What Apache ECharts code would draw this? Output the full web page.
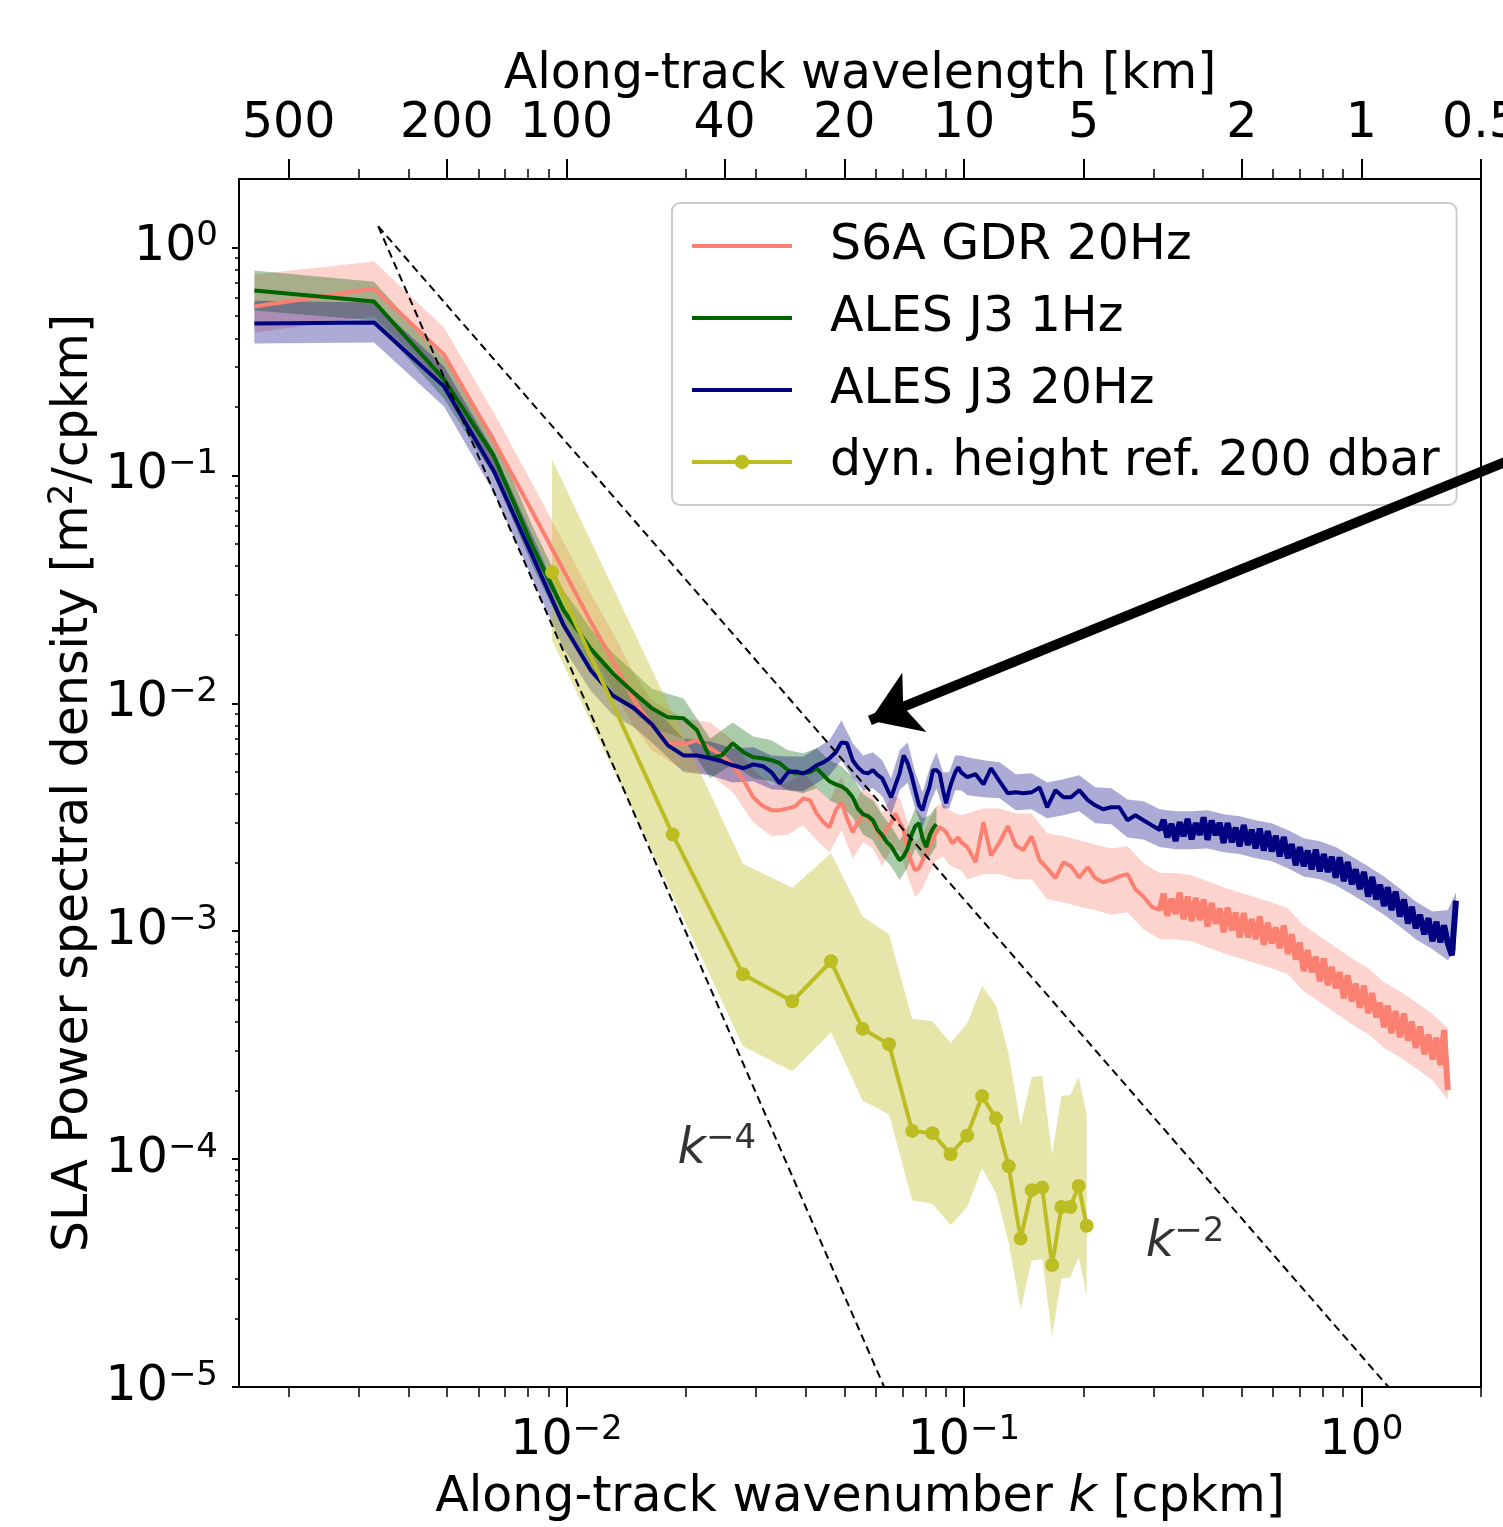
<!DOCTYPE html>
<html>
<head>
<meta charset="utf-8">
<title>SLA wavenumber spectra</title>
<script src="https://cdn.jsdelivr.net/npm/echarts@6/dist/echarts.min.js"></script>
<style>
  html, body { margin: 0; padding: 0; background: #fff; overflow: hidden; }
  #main { width: 1503px; height: 1527px; }
</style>
</head>
<body>
<div id="main"></div>
<script>
// wavenumber grid of the 20Hz / 1Hz spectra [cpkm]
var waveK = [
  0.00164, 0.00328, 0.00492, 0.00656, 0.0082, 0.00984, 0.0115, 0.0131, 0.0148, 0.0164,
  0.018, 0.0197, 0.0213, 0.023, 0.0246, 0.0262, 0.0279, 0.0295, 0.0312, 0.0328,
  0.0344, 0.0361, 0.0377, 0.0394, 0.041, 0.0426, 0.0443, 0.0459, 0.0476, 0.0492,
  0.0508, 0.0525, 0.0541, 0.0558, 0.0574, 0.059, 0.0607, 0.0623, 0.064, 0.0656,
  0.0672, 0.0689, 0.0705, 0.0722, 0.0738, 0.0754, 0.0771, 0.0787, 0.0804, 0.082,
  0.0836, 0.0853, 0.0869, 0.0886, 0.0902, 0.0918, 0.0935, 0.0951, 0.0968, 0.0984,
  0.102, 0.107, 0.112, 0.117, 0.123, 0.129, 0.135, 0.141, 0.148, 0.155,
  0.162, 0.170, 0.178, 0.186, 0.195, 0.205, 0.214, 0.224, 0.235, 0.246,
  0.258, 0.270, 0.283, 0.297,
  0.311, 0.318, 0.325, 0.333, 0.341, 0.349, 0.357, 0.3655, 0.374, 0.383,
  0.392, 0.401, 0.410, 0.420, 0.430, 0.440, 0.450, 0.461, 0.472, 0.483,
  0.494, 0.506, 0.518, 0.530, 0.542, 0.555, 0.568, 0.5815, 0.595, 0.609,
  0.623, 0.638, 0.653, 0.668, 0.684, 0.700, 0.716, 0.733, 0.750, 0.768,
  0.786, 0.8045, 0.823, 0.8425, 0.862, 0.882, 0.903, 0.924, 0.946, 0.968,
  0.991, 1.015, 1.04, 1.065, 1.09, 1.115, 1.14, 1.165, 1.19, 1.22,
  1.25, 1.28, 1.31, 1.34, 1.37, 1.405, 1.44, 1.475, 1.51, 1.545,
  1.58, 1.615, 1.65, 1.69, 1.73
];
// index in waveK where the densely sampled, noisy part starts
var denseFrom = 84;

// S6A GDR 20Hz
var s6aPsd = [
  0.551, 0.661, 0.339, 0.142, 0.0695, 0.0383, 0.0229, 0.0153, 0.0103, 0.00801,
  0.00668, 0.00661, 0.00688, 0.00635, 0.00591, 0.00535, 0.0046, 0.00387, 0.00354, 0.0034,
  0.0034, 0.00346, 0.00354, 0.00383, 0.00376, 0.00329, 0.00301, 0.00286, 0.0034, 0.00368,
  0.00313, 0.00272, 0.00301, 0.00326, 0.00313, 0.00304, 0.00272, 0.00256, 0.00283, 0.00298,
  0.00329, 0.00301, 0.00278, 0.00227, 0.00201, 0.00185, 0.00189, 0.00205, 0.0022, 0.00238,
  0.00256, 0.00272, 0.00286, 0.0028, 0.00272, 0.00258, 0.00243, 0.00251, 0.00258, 0.00246,
  0.00234, 0.00201, 0.00301, 0.00215, 0.00246, 0.00289, 0.00238, 0.00227, 0.00261, 0.00205,
  0.00189, 0.00171, 0.00201, 0.00193, 0.00172, 0.00191, 0.00171, 0.00164, 0.00168, 0.00174,
  0.00178, 0.00153, 0.00142, 0.00128,
  0.00124, 0.00146, 0.00117, 0.00139, 0.00119, 0.00148, 0.00113, 0.00142, 0.00111, 0.0014,
  0.00112, 0.00138, 0.00105, 0.00133, 0.00108, 0.00126, 0.00099, 0.00127, 0.00101, 0.00121,
  0.00094, 0.0012, 0.000941, 0.00113, 0.000925, 0.00116, 0.000872, 0.00109, 0.000884, 0.00104,
  0.000843, 0.00106, 0.000795, 0.00097, 0.000752, 0.000891, 0.000668, 0.000826, 0.000661, 0.000772,
  0.000602, 0.000759, 0.00058, 0.000697, 0.000562, 0.000661, 0.000508, 0.000641, 0.000493, 0.000588,
  0.000462, 0.000577, 0.000437, 0.000535, 0.000418, 0.000485, 0.000379, 0.000472, 0.000357, 0.000446,
  0.000343, 0.000435, 0.000331, 0.000401, 0.000308, 0.000382, 0.000289, 0.000352, 0.000274, 0.000341,
  0.000259, 0.000368, 0.000201
];

// ALES J3 20Hz
var j3hfPsd = [
  0.464, 0.469, 0.246, 0.105, 0.0446, 0.022, 0.014, 0.0108, 0.00951, 0.00809,
  0.00654, 0.00591, 0.00591, 0.00574, 0.00557, 0.00535, 0.00519, 0.0054, 0.0053, 0.00498,
  0.00446, 0.00498, 0.00503, 0.00493, 0.00509, 0.00535, 0.00551, 0.00574, 0.0061, 0.00674,
  0.00668, 0.00563, 0.00524, 0.00498, 0.00493, 0.00509, 0.00484, 0.00469, 0.00424, 0.00387,
  0.00437, 0.00493, 0.00591, 0.00546, 0.00484, 0.00416, 0.00357, 0.0034, 0.00391, 0.00432,
  0.00509, 0.00509, 0.00493, 0.00416, 0.00364, 0.00416, 0.0046, 0.00498, 0.00524, 0.00498,
  0.00474, 0.00489, 0.00441, 0.00519, 0.00455, 0.00403, 0.00407, 0.00403, 0.00407, 0.00428,
  0.0035, 0.00416, 0.00387, 0.00387, 0.00416, 0.00376, 0.00357, 0.00343, 0.0035, 0.0035,
  0.00307, 0.00323, 0.00307, 0.00292,
  0.00278, 0.00308, 0.00258, 0.00296, 0.00249, 0.00301, 0.00261, 0.00311, 0.00253, 0.00298,
  0.00265, 0.00316, 0.00252, 0.00306, 0.00264, 0.00299, 0.00244, 0.00298, 0.00246, 0.00285,
  0.00236, 0.00292, 0.00239, 0.00279, 0.00231, 0.00282, 0.00226, 0.00275, 0.00224, 0.00262,
  0.00213, 0.00259, 0.00209, 0.00241, 0.00195, 0.00234, 0.00193, 0.00226, 0.00187, 0.00228,
  0.00183, 0.00218, 0.00182, 0.00212, 0.00172, 0.00211, 0.00166, 0.00201, 0.00161, 0.00187,
  0.00153, 0.00182, 0.00142, 0.00173, 0.00138, 0.0016, 0.00129, 0.00156, 0.00124, 0.00149,
  0.00116, 0.00138, 0.00108, 0.00128, 0.00103, 0.00118, 0.00097, 0.00114, 0.000905, 0.0011,
  0.000895, 0.00106, 0.000886, 0.000785, 0.00136
];

// ALES J3 1Hz
var j3lfPsd = [
  0.648, 0.58, 0.264, 0.122, 0.0493, 0.0256, 0.0174, 0.0135, 0.0111, 0.00951,
  0.00868, 0.0086, 0.00762, 0.00574, 0.00591, 0.00668, 0.0061, 0.0058, 0.00574, 0.00563,
  0.00546, 0.00509, 0.00493, 0.00493, 0.00498, 0.00519, 0.00484, 0.00455, 0.00441, 0.00432,
  0.00416, 0.00387, 0.00346, 0.00326, 0.0032, 0.00307, 0.00278, 0.00264, 0.00246, 0.00236,
  0.0022, 0.00205, 0.00213, 0.00231, 0.00264, 0.00289, 0.00298, 0.00256, 0.00234, 0.00264,
  0.00283, 0.00295
];

// wavenumbers where the confidence bands were read
var bandK = [
  0.00164, 0.00328, 0.00492, 0.00656, 0.0082, 0.00984, 0.0115, 0.0131, 0.0148, 0.0164,
  0.0197, 0.023, 0.0262, 0.0295, 0.0328, 0.0361, 0.0394, 0.0426, 0.0459, 0.0492,
  0.0525, 0.0558, 0.059, 0.0623, 0.0656, 0.0689, 0.0722, 0.0754, 0.0787, 0.082,
  0.0853, 0.0886, 0.0918, 0.0951, 0.0984,
  0.102, 0.112, 0.123, 0.135, 0.148, 0.162, 0.178, 0.195, 0.214, 0.235,
  0.258, 0.283, 0.311, 0.341, 0.374, 0.410, 0.450, 0.494, 0.542, 0.595,
  0.653, 0.716, 0.786, 0.862, 0.946, 1.04, 1.14, 1.25, 1.37, 1.51,
  1.65, 1.73
];

var s6aHi = [
  0.762, 0.868, 0.446, 0.189, 0.0923, 0.0509, 0.0304, 0.0203, 0.0135, 0.0103,
  0.0086, 0.00825, 0.00688, 0.00509, 0.00437, 0.0045, 0.00498, 0.00428, 0.00376, 0.00479,
  0.00354, 0.00424, 0.00395, 0.00332, 0.00387, 0.00387, 0.00301, 0.00246, 0.00269, 0.00313,
  0.00354, 0.00364, 0.0034, 0.00329, 0.00323,
  0.00329, 0.00346, 0.00346, 0.00329, 0.00329, 0.00269, 0.00261, 0.00251, 0.0024, 0.00231,
  0.00236, 0.00199, 0.0018, 0.0018, 0.00176, 0.00166, 0.00156, 0.00148, 0.00141, 0.00134,
  0.00126, 0.00106, 0.000951, 0.000851, 0.000761, 0.000688, 0.000597, 0.000546, 0.000489, 0.000433,
  0.000376
];
var s6aLo = [
  0.424, 0.498, 0.253, 0.107, 0.0524, 0.0289, 0.0172, 0.0115, 0.00785, 0.00622,
  0.00509, 0.00489, 0.00407, 0.00301, 0.00261, 0.00266, 0.00292, 0.00251, 0.00222, 0.00278,
  0.00209, 0.00246, 0.00231, 0.00193, 0.00227, 0.00227, 0.00174, 0.00141, 0.00154, 0.00182,
  0.00205, 0.00213, 0.00197, 0.00189, 0.00185,
  0.00169, 0.00178, 0.00178, 0.00169, 0.00169, 0.00138, 0.00134, 0.00128, 0.00124, 0.00118,
  0.00121, 0.00102, 0.000923, 0.000923, 0.000904, 0.000851, 0.000801, 0.000761, 0.000724, 0.000688,
  0.000648, 0.000546, 0.000489, 0.000437, 0.000391, 0.000354, 0.000307, 0.00028, 0.000251, 0.000222,
  0.000182
];

var j3hfHi = [
  0.585, 0.574, 0.301, 0.128, 0.0546, 0.0269, 0.0171, 0.013, 0.0114, 0.0098,
  0.00702, 0.0068, 0.00635, 0.00641, 0.00591, 0.00585, 0.00585, 0.00635, 0.00688, 0.00843,
  0.00668, 0.00591, 0.0061, 0.00563, 0.00469, 0.00622, 0.00674, 0.00498, 0.00407, 0.00519,
  0.0061, 0.00498, 0.00498, 0.00591, 0.00591,
  0.0058, 0.00563, 0.00551, 0.00489, 0.00493, 0.0045, 0.00464, 0.00484, 0.00428, 0.00424,
  0.00379, 0.00372, 0.00343, 0.00336, 0.00336, 0.0034, 0.00326, 0.0032, 0.00307, 0.00298,
  0.00278, 0.00256, 0.00248, 0.00234, 0.00213, 0.00193, 0.00174, 0.00154, 0.00135, 0.00122,
  0.00124, 0.00148
];
var j3hfLo = [
  0.379, 0.383, 0.201, 0.0843, 0.0354, 0.0174, 0.0114, 0.00886, 0.00785, 0.00674,
  0.00498, 0.00484, 0.0045, 0.00455, 0.0042, 0.00416, 0.00411, 0.00446, 0.00484, 0.00563,
  0.00469, 0.00416, 0.00424, 0.00391, 0.00323, 0.00416, 0.0045, 0.00346, 0.00283, 0.0036,
  0.00424, 0.00346, 0.00346, 0.00416, 0.00416,
  0.00395, 0.00387, 0.00383, 0.0034, 0.00343, 0.00313, 0.00323, 0.00336, 0.00298, 0.00295,
  0.00258, 0.00253, 0.00234, 0.00229, 0.00229, 0.00231, 0.00222, 0.00218, 0.00209, 0.00203,
  0.00189, 0.00174, 0.00169, 0.00159, 0.00145, 0.00131, 0.00118, 0.00105, 0.000923, 0.000834,
  0.000746, 0.000826
];

var j3lfHi = [
  0.793, 0.709, 0.326, 0.15, 0.0604, 0.0313, 0.0213, 0.0166, 0.0137, 0.0116,
  0.0105, 0.00702, 0.00825, 0.00716, 0.00688, 0.00622, 0.00604, 0.00635, 0.00563, 0.0053,
  0.00474, 0.00399, 0.00376, 0.00323, 0.00289, 0.00251, 0.00286, 0.00346, 0.00313, 0.00323,
  0.00354
];
var j3lfLo = [
  0.53, 0.479, 0.217, 0.1, 0.0403, 0.0209, 0.0142, 0.011, 0.00913, 0.00777,
  0.00702, 0.00469, 0.0054, 0.00469, 0.00455, 0.00416, 0.00403, 0.00424, 0.00376, 0.00354,
  0.00316, 0.00266, 0.00251, 0.00213, 0.00193, 0.00168, 0.00191, 0.00231, 0.00205, 0.00213,
  0.00236
];

// dynamic height ref. 200 dbar
var dynK = [0.0092, 0.0185, 0.0278, 0.037, 0.0463, 0.0556, 0.0648, 0.0741, 0.0833, 0.0926, 0.1019,
  0.1111, 0.1204, 0.1296, 0.1389, 0.1481, 0.1574, 0.1667, 0.1759, 0.1852, 0.1944, 0.2037];
var dynPsd = [0.0376, 0.00266, 0.000648, 0.000493, 0.000738, 0.000373, 0.000319, 0.000133, 0.00013, 0.000105, 0.000127,
  0.000189, 0.000151, 0.000093, 0.0000448, 0.0000731, 0.000075, 0.0000343, 0.0000616, 0.0000616, 0.0000762, 0.000051];
var dynHi = [0.1175, 0.00904, 0.00198, 0.00155, 0.0022, 0.00116, 0.00097, 0.000413, 0.000403, 0.000323, 0.000395,
  0.000575, 0.000473, 0.00029, 0.000141, 0.000229, 0.000232, 0.000105, 0.000189, 0.000191, 0.000229, 0.000157];
var dynLo = [0.0189, 0.00144, 0.000313, 0.000243, 0.00036, 0.000181, 0.000157, 0.000066, 0.0000637, 0.0000514, 0.0000616,
  0.0000913, 0.000071, 0.000043, 0.000022, 0.0000358, 0.0000364, 0.0000167, 0.0000299, 0.0000303, 0.0000372, 0.0000251];

// reference slopes k^-4 and k^-2 (end points)
var slopeK4 = [[0.00336, 1.24], [0.063, 1e-5]];
var slopeK2 = [[0.00336, 1.24], [1.17, 1e-5]];
var slopeLabelPos = [[0.0239, 1.09e-4], [0.36, 4.28e-5]];
var slopeLabelExp = ['\u22124', '\u22122'];

// annotation arrow (tail, head)
var arrowFrom = [3.17, 0.144];
var arrowTo = [0.058, 0.00842];

// ticks
var kMajor = [0.01, 0.1, 1];
var kMajorExp = ['\u22122', '\u22121', '0'];
var kMinor = [0.002, 0.003, 0.004, 0.005, 0.006, 0.007, 0.008, 0.009,
  0.02, 0.03, 0.04, 0.05, 0.06, 0.07, 0.08, 0.09,
  0.2, 0.3, 0.4, 0.5, 0.6, 0.7, 0.8, 0.9, 2];
var topTickK = [0.002, 0.005, 0.01, 0.025, 0.05, 0.1, 0.2, 0.5, 1, 2];
var topTickLabels = ['500', '200', '100', '40', '20', '10', '5', '2', '1', '0.5'];
var topMinorK = [0.003, 0.004, 0.006, 0.007, 0.008, 0.009, 0.02, 0.03, 0.04,
  0.06, 0.07, 0.08, 0.09, 0.3, 0.4, 0.6, 0.7, 0.8, 0.9];
var yMajor = [1e-5, 1e-4, 1e-3, 1e-2, 1e-1, 1];
var yMajorExp = ['\u22125', '\u22124', '\u22123', '\u22122', '\u22121', '0'];
var yMinor = [];
[1e-5, 1e-4, 1e-3, 1e-2, 1e-1].forEach(function (d) {
  [2, 3, 4, 5, 6, 7, 8, 9].forEach(function (m) { yMinor.push(+(m * d).toPrecision(3)); });
});

var FONT = 'DejaVu Sans';
var BLACK = '#000000';

var RICH = {
  b: { fontFamily: FONT, fontSize: 49, color: BLACK, lineHeight: 56 },
  s: { fontFamily: FONT, fontSize: 34, color: BLACK, lineHeight: 34, verticalAlign: 'top' },
  i: { fontFamily: FONT, fontSize: 49, color: BLACK, lineHeight: 56, fontStyle: 'italic' }
};

function sameTick(a, b) { return Math.abs(Math.log(a / b)) < 1e-6; }

function powLabel(ticks, exps) {
  return function (v) {
    for (var i = 0; i < ticks.length; i++) {
      if (sameTick(v, ticks[i])) return '{b|10}{s|' + exps[i] + '}';
    }
    return '';
  };
}

function pairs(xs, ys, from) {
  var out = [];
  for (var i = from || 0; i < ys.length; i++) out.push([xs[i], ys[i]]);
  return out;
}

function bandSeries(xs, lo, hi, fill) {
  return {
    type: 'custom',
    coordinateSystem: 'cartesian2d',
    silent: true,
    z: 1,
    data: [[xs[0], hi[0]]],
    renderItem: function (params, api) {
      var pts = [];
      for (var i = 0; i < hi.length; i++) pts.push(api.coord([xs[i], hi[i]]));
      for (var j = lo.length - 1; j >= 0; j--) pts.push(api.coord([xs[j], lo[j]]));
      return { type: 'polygon', shape: { points: pts }, style: { fill: fill } };
    }
  };
}

function lineSeries(name, xs, ys, color) {
  return {
    type: 'line',
    name: name,
    data: pairs(xs, ys),
    symbol: 'none',
    showSymbol: false,
    z: 2,
    lineStyle: { color: color, width: 4 },
    itemStyle: { color: color }
  };
}

// heavier stroke over the dense noisy tail, same values
function denseTail(xs, ys, color) {
  return {
    type: 'line', data: pairs(xs, ys, denseFrom), symbol: 'none', silent: true, z: 2,
    lineStyle: { color: color, width: 6, join: 'bevel' }
  };
}

function tickAxis(pos, values, len, width) {
  return {
    type: 'log', logBase: 10, position: pos,
    axisLine: { show: false },
    axisTick: { show: true, customValues: values, length: len, lineStyle: { color: BLACK, width: width } },
    axisLabel: { show: false },
    splitLine: { show: false }
  };
}

var xBottomMinor = tickAxis('bottom', kMinor, 10, 1.5);
var xTopMinor = tickAxis('top', topMinorK, 10, 1.5);
var yLeftMinor = tickAxis('left', yMinor, 4, 1.5);
[xBottomMinor, xTopMinor].forEach(function (a) { a.min = 0.0015; a.max = 2; });
yLeftMinor.min = 1e-5; yLeftMinor.max = 2;

var chart = echarts.init(document.getElementById('main'), null, { renderer: 'canvas' });

var option = {
  animation: false,
  backgroundColor: '#ffffff',
  grid: {
    left: 239, right: 22, top: 179, bottom: 140,
    outerBoundsMode: 'none', containLabel: false,
    show: true, borderColor: BLACK, borderWidth: 2, backgroundColor: 'transparent'
  },
  legend: {
    data: [
      { name: 'S6A GDR 20Hz', itemStyle: { opacity: 0 } },
      { name: 'ALES J3 1Hz', itemStyle: { opacity: 0 } },
      { name: 'ALES J3 20Hz', itemStyle: { opacity: 0 } },
      { name: 'dyn. height ref. 200 dbar' }
    ],
    orient: 'vertical',
    left: 672, top: 203,
    padding: [15, 17, 15, 18],
    itemWidth: 100, itemHeight: 18, itemGap: 16,
    backgroundColor: 'rgba(255,255,255,0.8)',
    borderColor: '#cccccc', borderWidth: 2, borderRadius: 8,
    selectedMode: false,
    lineStyle: { width: 4 },
    textStyle: { fontFamily: FONT, fontSize: 49, color: BLACK, lineHeight: 56, padding: [0, 0, 0, 33] }
  },
  xAxis: [
    {
      type: 'log', logBase: 10, min: 0.0015, max: 2, position: 'bottom',
      axisLine: { show: true, onZero: false, lineStyle: { color: BLACK, width: 2 } },
      axisTick: { show: true, customValues: kMajor, length: 20, lineStyle: { color: BLACK, width: 2 } },
      axisLabel: { show: true, customValues: kMajor, formatter: powLabel(kMajor, kMajorExp), rich: RICH, margin: 26,
        fontFamily: FONT, fontSize: 49, color: BLACK },
      splitLine: { show: false },
      name: '{b|Along-track wavenumber }{i|k}{b| [cpkm]}',
      nameLocation: 'middle', nameGap: 83, nameMoveOverlap: false,
      nameTextStyle: { fontFamily: FONT, fontSize: 49, color: BLACK, rich: RICH }
    },
    xBottomMinor,
    {
      type: 'log', logBase: 10, min: 0.0015, max: 2, position: 'top',
      axisLine: { show: true, onZero: false, lineStyle: { color: BLACK, width: 2 } },
      axisTick: { show: true, customValues: topTickK, length: 20, lineStyle: { color: BLACK, width: 2 } },
      axisLabel: {
        show: true, customValues: topTickK, margin: 27,
        fontFamily: FONT, fontSize: 49, color: BLACK, lineHeight: 56,
        formatter: function (v) {
          for (var i = 0; i < topTickK.length; i++) if (sameTick(v, topTickK[i])) return topTickLabels[i];
          return '';
        }
      },
      splitLine: { show: false },
      name: 'Along-track wavelength [km]',
      nameLocation: 'middle', nameGap: 76, nameMoveOverlap: false,
      nameTextStyle: { fontFamily: FONT, fontSize: 49, color: BLACK, lineHeight: 56 }
    },
    xTopMinor
  ],
  yAxis: [
    {
      type: 'log', logBase: 10, min: 1e-5, max: 2, position: 'left',
      axisLine: { show: true, onZero: false, lineStyle: { color: BLACK, width: 2 } },
      axisTick: { show: true, customValues: yMajor, length: 7, lineStyle: { color: BLACK, width: 2 } },
      axisLabel: { show: true, customValues: yMajor, formatter: powLabel(yMajor, yMajorExp), rich: RICH, margin: 21,
        fontFamily: FONT, fontSize: 49, color: BLACK },
      splitLine: { show: false },
      name: '{b|SLA Power spectral density [m}{s|2}{b|/cpkm]}',
      nameLocation: 'middle', nameGap: 137, nameRotate: 90, nameMoveOverlap: false,
      nameTextStyle: { fontFamily: FONT, fontSize: 49, color: BLACK, rich: RICH }
    },
    yLeftMinor
  ],
  series: [
    bandSeries(bandK, s6aLo, s6aHi, 'rgba(250,128,114,0.35)'),
    bandSeries(bandK, j3lfLo, j3lfHi, 'rgba(0,100,0,0.33)'),
    bandSeries(bandK, j3hfLo, j3hfHi, 'rgba(0,0,128,0.33)'),
    bandSeries(dynK, dynLo, dynHi, 'rgba(188,189,34,0.38)'),
    lineSeries('S6A GDR 20Hz', waveK, s6aPsd, '#fa8072'),
    denseTail(waveK, s6aPsd, '#fa8072'),
    lineSeries('ALES J3 1Hz', waveK, j3lfPsd, '#006400'),
    lineSeries('ALES J3 20Hz', waveK, j3hfPsd, '#000080'),
    denseTail(waveK, j3hfPsd, '#000080'),
    {
      type: 'line', name: 'dyn. height ref. 200 dbar', data: pairs(dynK, dynPsd),
      symbol: 'circle', symbolSize: 14, showSymbol: true, z: 2,
      lineStyle: { color: '#bcbd22', width: 4 }, itemStyle: { color: '#bcbd22' }
    },
    {
      type: 'line', data: slopeK4, symbol: 'none', z: 3, silent: true,
      lineStyle: { color: BLACK, width: 2, type: [8, 5] }
    },
    {
      type: 'line', data: slopeK2, symbol: 'none', z: 3, silent: true,
      lineStyle: { color: BLACK, width: 2, type: [8, 5] }
    },
    {
      type: 'scatter', symbolSize: 1, silent: true, z: 5,
      itemStyle: { color: 'rgba(0,0,0,0)' },
      data: slopeLabelPos.map(function (p, i) { return { value: p, name: slopeLabelExp[i] }; }),
      label: {
        show: true, position: 'inside',
        formatter: function (p) { return '{i|k}{s|' + p.name + '}'; },
        rich: RICH
      }
    },
    {
      type: 'lines', coordinateSystem: 'cartesian2d', clip: false, silent: true, z: 10,
      symbol: ['none', 'arrow'], symbolSize: 48,
      lineStyle: { color: BLACK, width: 10, opacity: 1, curveness: 0 },
      data: [{ coords: [arrowFrom, arrowTo] }]
    }
  ]
};

chart.setOption(option);
</script>
</body>
</html>
